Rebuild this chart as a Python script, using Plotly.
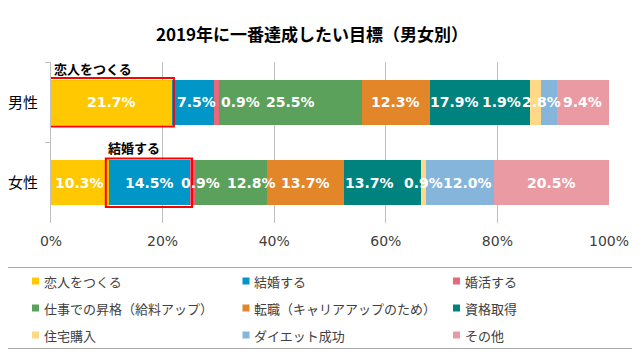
import plotly.graph_objects as go

# ---- data ----
genders = ["男性", "女性"]
series_names = ["恋人をつくる", "結婚する", "婚活する", "仕事での昇格（給料アップ）",
                "転職（キャリアアップのため）", "資格取得", "住宅購入", "ダイエット成功", "その他"]
male_values = [21.7, 7.5, 0.9, 25.5, 12.3, 17.9, 1.9, 2.8, 9.4]
female_values = [10.3, 14.5, 0.9, 12.8, 13.7, 13.7, 0.9, 12.0, 20.5]
x_tick_values = [0, 20, 40, 60, 80, 100]
x_tick_labels = ["0%", "20%", "40%", "60%", "80%", "100%"]
title_text = "2019年に一番達成したい目標（男女別）"
callouts = [(0, 0, "恋人をつくる"), (1, 1, "結婚する")]  # (gender index, series index, text)

# ---- styles ----
colors = ["#FFC800", "#0096C8", "#E8687C", "#5BA05B", "#E3862A",
          "#00827F", "#FFD985", "#85B5DA", "#EA9AA2"]
label_xshift = {(0, 1): 3, (0, 2): 24, (0, 5): -26, (0, 6): -34, (0, 7): -7,
                (1, 2): 8, (1, 3): 20, (1, 5): -13, (1, 7): 7}
callout_xshift = {0: 1, 1: -3}
callout_yshift = {0: 34, 1: 35}

OFF = 8  # page body margin
W, H = 640 - OFF, 363 - OFF
ML, MR, MT, MB = 51 - OFF, 31, 62 - OFF, 140
PW, PH = W - ML - MR, H - MT - MB


def px(xp):
    return (xp - OFF - ML) / PW


def py(yp):
    return (H - MB - (yp - OFF)) / PH


values = [male_values, female_values]

fig = go.Figure()
for i, name in enumerate(series_names):
    fig.add_trace(go.Bar(
        y=genders, x=[male_values[i], female_values[i]], name=name,
        orientation="h", marker=dict(color=colors[i], line=dict(width=0)),
        width=0.56, showlegend=False, hoverinfo="x+name"))

annotations = []
shapes = []
for g, vals in enumerate(values):
    total = sum(vals)
    cum = 0.0
    for i, v in enumerate(vals):
        nv = v / total * 100
        annotations.append(dict(
            x=cum + nv / 2, y=genders[g], xref="x", yref="y",
            text=f"{v:.1f}%", showarrow=False,
            xshift=label_xshift.get((g, i), 0),
            font=dict(family="DejaVu Sans", size=14, color="white", weight="bold")))
        cum += nv

for g, s, txt in callouts:
    vals = values[g]
    total = sum(vals)
    start = sum(vals[:s]) / total * 100
    end = sum(vals[:s + 1]) / total * 100
    shapes.append(dict(type="rect", xref="x", yref="y",
                       x0=start - 0.55, x1=end + 0.3, y0=g - 0.3, y1=g + 0.3,
                       line=dict(color="#FF0000", width=2)))
    annotations.append(dict(
        x=start, y=g, xref="x", yref="y", xanchor="left", yanchor="middle",
        text=txt, showarrow=False, xshift=callout_xshift[g], yshift=callout_yshift[g],
        font=dict(family="Noto Sans CJK JP", size=13, color="#000000", weight="bold")))

# legend (manual, 3 columns)
shapes.append(dict(type="rect", xref="paper", yref="paper",
                   x0=px(4.5), x1=px(634.5), y0=py(267.5), y1=py(348.5),
                   line=dict(color="#A6A6A6", width=1), fillcolor="rgba(0,0,0,0)"))
for i, name in enumerate(series_names):
    col, row = i % 3, i // 3
    cx = 35.5 + col * 210.5
    cy = 281 + row * 27
    shapes.append(dict(type="rect", xref="paper", yref="paper",
                       x0=px(cx - 3.5), x1=px(cx + 3.5), y0=py(cy + 3.5), y1=py(cy - 3.5),
                       line=dict(width=0), fillcolor=colors[i]))
    annotations.append(dict(
        x=px(cx + 6), y=py(cy), xref="paper", yref="paper",
        xanchor="left", yanchor="middle", text=name, showarrow=False,
        font=dict(family="Noto Sans CJK JP", size=13, color="#404040")))

fig.update_layout(
    barmode="stack", barnorm="percent",
    width=W, height=H, margin=dict(l=ML, r=MR, t=MT, b=MB, autoexpand=False),
    paper_bgcolor="white", plot_bgcolor="white",
    title=dict(text=title_text, x=(312 - OFF) / W, xanchor="center", y=1 - (35 - OFF) / H,
               yanchor="middle", xref="container", yref="container",
               font=dict(family="Noto Sans CJK JP", size=17, color="#000000", weight="bold")),
    xaxis=dict(range=[0, 100], tickvals=x_tick_values, ticktext=x_tick_labels,
               showgrid=True, gridcolor="#BFBFBF", gridwidth=1, zeroline=False,
               showline=False, ticks="", ticklabelstandoff=8, automargin=False,
               tickfont=dict(family="DejaVu Sans", size=14, color="#404040")),
    yaxis=dict(categoryorder="array", categoryarray=genders, range=[1.5, -0.5],
               showline=True, linecolor="#BFBFBF", linewidth=1, automargin=False,
               ticks="outside", tickson="boundaries", ticklen=5, tickcolor="#BFBFBF",
               ticklabelstandoff=9, showgrid=False,
               tickfont=dict(family="Noto Sans CJK JP", size=15, color="#000000")),
    annotations=annotations, shapes=shapes, showlegend=False,
)

fig.write_html("out.html")
